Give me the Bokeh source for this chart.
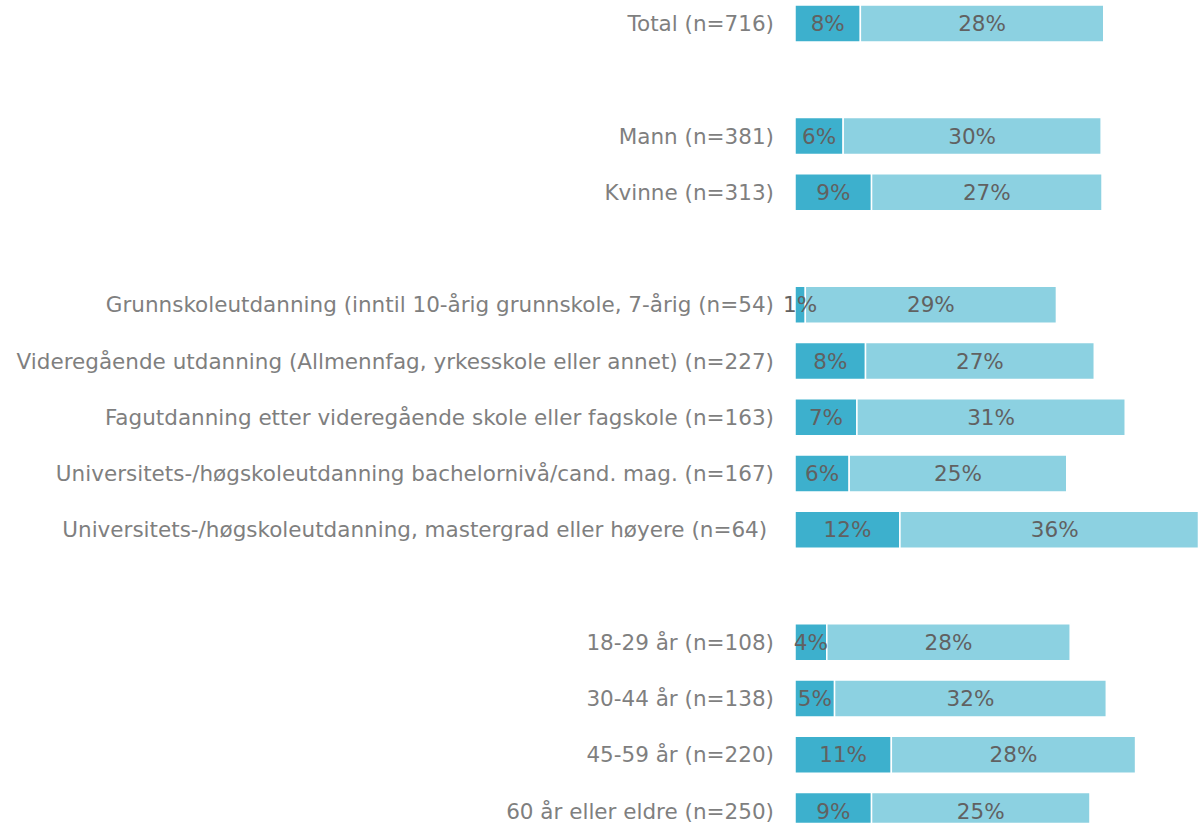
from bokeh.plotting import figure
from bokeh.models import ColumnDataSource, Range1d
from bokeh.core.properties import value
from bokeh.embed import file_html
from bokeh.resources import INLINE

categories = [
    "Total (n=716)",
    "Mann (n=381)",
    "Kvinne (n=313)",
    "Grunnskoleutdanning (inntil 10-årig grunnskole, 7-årig (n=54)",
    "Videregående utdanning (Allmennfag, yrkesskole eller annet) (n=227)",
    "Fagutdanning etter videregående skole eller fagskole (n=163)",
    "Universitets-/høgskoleutdanning bachelornivå/cand. mag. (n=167)",
    "Universitets-/høgskoleutdanning,  mastergrad eller høyere (n=64)",
    "18-29 år (n=108)",
    "30-44 år (n=138)",
    "45-59 år (n=220)",
    "60 år eller eldre (n=250)",
]
# row slot of each category (blank slots separate the groups)
slots = [0, 2, 3, 5, 6, 7, 8, 9, 11, 12, 13, 14]
series1 = [7.6, 5.6, 8.9, 1.2, 8.2, 7.2, 6.3, 12.2, 3.7, 4.6, 11.2, 8.9]
series2 = [28.3, 30.0, 26.8, 29.2, 26.6, 31.2, 25.3, 36.0, 28.3, 31.6, 28.4, 25.4]
labels1 = ["8%", "6%", "9%", "1%", "8%", "7%", "6%", "12%", "4%", "5%", "11%", "9%"]
labels2 = ["28%", "30%", "27%", "29%", "27%", "31%", "25%", "36%", "28%", "32%", "28%", "25%"]

DARK = "#3DB0CD"
LIGHT = "#8CD1E1"
FONT = "DejaVu Sans"
FS = "21.5px"

W, H = 1198, 823
PX = 8.6          # pixels per percent
X0 = 794.5        # pixel position of zero inside figure
ROW = 56.25
Y0 = 23.0

x_start = -X0 / PX
x_end = (W - X0) / PX
y_top = -Y0 / ROW
y_bottom = (H - Y0) / ROW

src = ColumnDataSource(dict(
    cat=categories,
    y=slots,
    end1=series1,
    end2=[a + b for a, b in zip(series1, series2)],
    mid1=[a / 2 for a in series1],
    mid2=[a + b / 2 for a, b in zip(series1, series2)],
    lab1=labels1,
    lab2=labels2,
    zero=[0] * len(series1),
))

p = figure(width=W, height=H, output_backend="svg", toolbar_location=None,
           x_range=Range1d(x_start, x_end), y_range=Range1d(y_bottom, y_top),
           min_border=0, min_border_left=0, min_border_right=0,
           min_border_top=0, min_border_bottom=0)
p.axis.visible = False
p.grid.visible = False
p.outline_line_color = None
p.background_fill_color = "white"
p.border_fill_color = "white"

p.hbar(y="y", left="zero", right="end1", height=0.655, source=src,
       fill_color=DARK, line_color="white", line_width=1.5)
p.hbar(y="y", left="end1", right="end2", height=0.655, source=src,
       fill_color=LIGHT, line_color="white", line_width=1.5)

p.text(x="zero", y="y", text="cat", source=src, x_offset=-21,
       text_align="right", text_baseline="middle",
       text_font=value(FONT), text_font_size=FS, text_color="#7F7F7F")
p.text(x="mid1", y="y", text="lab1", source=src,
       text_align="center", text_baseline="middle",
       text_font=value(FONT), text_font_size=FS, text_color="#616161")
p.text(x="mid2", y="y", text="lab2", source=src,
       text_align="center", text_baseline="middle",
       text_font=value(FONT), text_font_size=FS, text_color="#616161")

open("out.html", "w").write(file_html(p, INLINE))
